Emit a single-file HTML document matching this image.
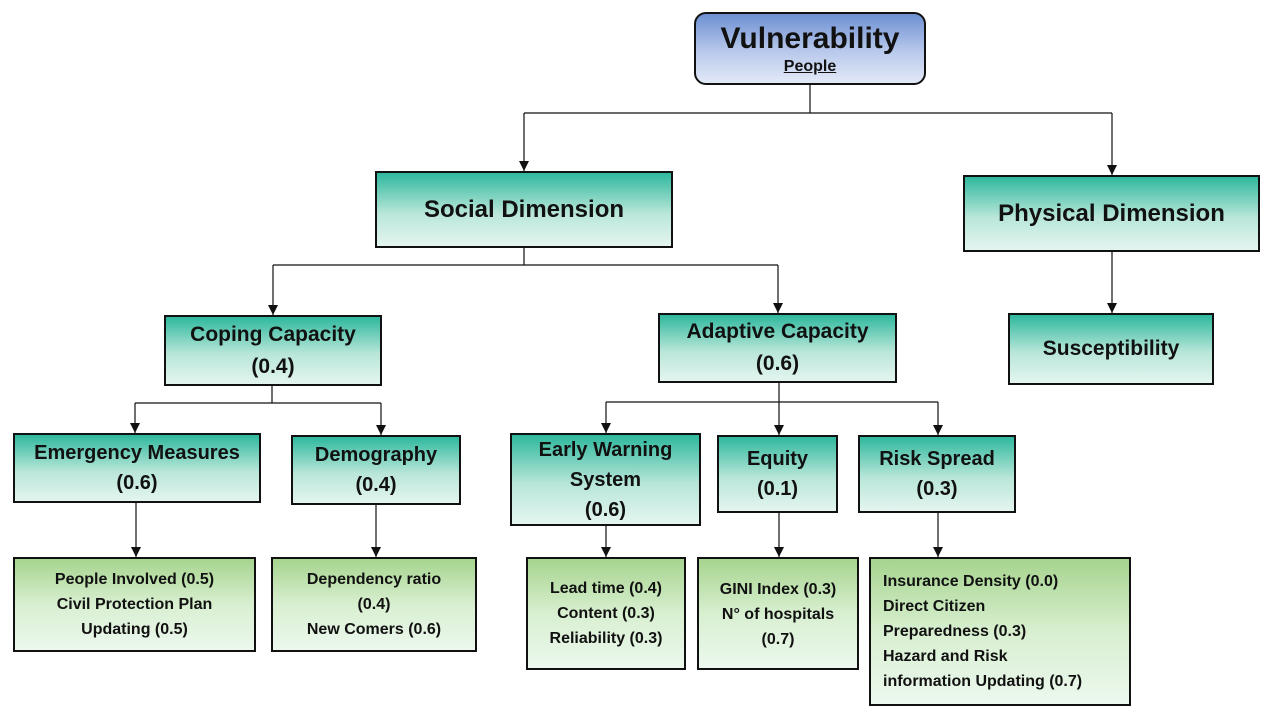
<!DOCTYPE html>
<html><head><meta charset="utf-8"><style>
body{margin:0;width:1274px;height:720px;background:#fff;position:relative;overflow:hidden;font-family:"Liberation Sans",sans-serif;font-weight:bold;color:#111}
.b{position:absolute;box-sizing:border-box;border:2px solid #111;display:flex;flex-direction:column;align-items:center;justify-content:center;text-align:center}
.t{background:linear-gradient(#2fb89e,#b8e6d8 55%,#e4f5f0)}
.g{background:linear-gradient(#a6d48e,#d8efd0 50%,#ecf8ee)}
.h{font-size:20px;line-height:30px}
.l{font-size:16px;line-height:25px}
svg{position:absolute;left:0;top:0}
</style></head><body>
<svg width="1274" height="720">
<defs><marker id="a" markerWidth="10" markerHeight="10" refX="10" refY="5" orient="auto" markerUnits="userSpaceOnUse"><path d="M0,0 L10,5 L0,10z" fill="#111"/></marker></defs>
<g stroke="#111" stroke-width="1.2" fill="none">
<path d="M810,85V113M524,113H1112"/>
<path d="M524,113V171" marker-end="url(#a)"/><path d="M1112,113V175" marker-end="url(#a)"/>
<path d="M524,248V265M273,265H778"/>
<path d="M273,265V315" marker-end="url(#a)"/><path d="M778,265V313" marker-end="url(#a)"/>
<path d="M1112,252V313" marker-end="url(#a)"/>
<path d="M272,386V403M135,403H381"/>
<path d="M135,403V433" marker-end="url(#a)"/><path d="M381,403V435" marker-end="url(#a)"/>
<path d="M779,383V402M606,402H938"/>
<path d="M606,402V433" marker-end="url(#a)"/><path d="M779,402V435" marker-end="url(#a)"/><path d="M938,402V435" marker-end="url(#a)"/>
<path d="M136,503V557" marker-end="url(#a)"/><path d="M376,505V557" marker-end="url(#a)"/>
<path d="M606,526V557" marker-end="url(#a)"/><path d="M779,513V557" marker-end="url(#a)"/><path d="M938,513V557" marker-end="url(#a)"/>
</g></svg>
<div class="b" style="left:694px;top:12px;width:232px;height:73px;border-radius:12px;background:linear-gradient(#6d90d2,#b9c9ec 55%,#e2e8f7)"><div style="font-size:30px;line-height:36px">Vulnerability</div><div style="font-size:16px;text-decoration:underline;line-height:20px">People</div></div>
<div class="b t" style="left:375px;top:171px;width:298px;height:77px;font-size:24px">Social Dimension</div>
<div class="b t" style="left:963px;top:175px;width:297px;height:77px;font-size:24px">Physical Dimension</div>
<div class="b t h" style="left:164px;top:315px;width:218px;height:71px;font-size:21px;line-height:32px">Coping Capacity<br>(0.4)</div>
<div class="b t h" style="left:658px;top:313px;width:239px;height:70px;font-size:21px;line-height:32px">Adaptive Capacity<br>(0.6)</div>
<div class="b t" style="left:1008px;top:313px;width:206px;height:72px;font-size:21px">Susceptibility</div>
<div class="b t h" style="left:13px;top:433px;width:248px;height:70px">Emergency Measures<br>(0.6)</div>
<div class="b t h" style="left:291px;top:435px;width:170px;height:70px">Demography<br>(0.4)</div>
<div class="b t h" style="left:510px;top:433px;width:191px;height:93px">Early Warning<br>System<br>(0.6)</div>
<div class="b t h" style="left:717px;top:435px;width:121px;height:78px">Equity<br>(0.1)</div>
<div class="b t h" style="left:858px;top:435px;width:158px;height:78px">Risk Spread<br>(0.3)</div>
<div class="b g l" style="left:13px;top:557px;width:243px;height:95px">People Involved (0.5)<br>Civil Protection Plan<br>Updating (0.5)</div>
<div class="b g l" style="left:271px;top:557px;width:206px;height:95px">Dependency ratio<br>(0.4)<br>New Comers (0.6)</div>
<div class="b g l" style="left:526px;top:557px;width:160px;height:113px">Lead time (0.4)<br>Content (0.3)<br>Reliability (0.3)</div>
<div class="b g l" style="left:697px;top:557px;width:162px;height:113px;justify-content:flex-start;padding-top:18px">GINI Index (0.3)<br>N° of hospitals<br>(0.7)</div>
<div class="b g l" style="left:869px;top:557px;width:262px;height:149px;align-items:flex-start;text-align:left;padding-left:12px">Insurance Density (0.0)<br>Direct Citizen<br>Preparedness (0.3)<br>Hazard and Risk<br>information Updating (0.7)</div>
</body></html>
